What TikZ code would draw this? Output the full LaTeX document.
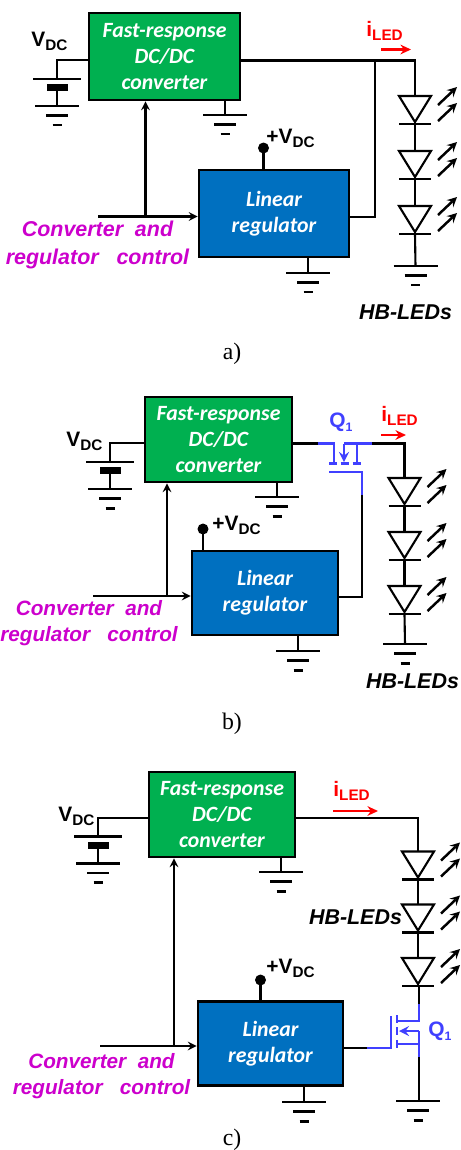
\documentclass[tikz,border=0pt]{standalone}
\usepackage{fontspec}
\setmainfont{Liberation Sans}
\newfontfamily\capfont{Liberation Serif}
\newfontfamily\boxfont{Carlito}
\usetikzlibrary{arrows.meta}
\definecolor{boxgreen}{HTML}{00B050}
\definecolor{boxblue}{HTML}{0070C0}
\definecolor{ctlpink}{HTML}{CC00CC}
\definecolor{fetblue}{HTML}{4040FF}
\newcommand{\subtxt}[2]{#1{\raisebox{-2.6pt}{\fontsize{8.7}{10}\selectfont #2}}}
\tikzset{
  wire/.style={line width=1.2pt},
  fet/.style={line width=1.5pt,fetblue},
  ray/.style={line width=1.4pt,->,>=stealth},
  redarrow/.style={line width=1.6pt,red,-{Stealth[length=6pt,width=5.5pt]}},
  block/.style={draw=black,line width=1.6pt,inner sep=0pt,align=center,text=white,
    font=\boxfont\bfseries\itshape\fontsize{12.4}{15}\selectfont},
  greenbox/.style={block,fill=boxgreen},
  bluebox/.style={block,fill=boxblue},
  tag/.style={inner sep=0pt,anchor=base west,font=\bfseries\fontsize{11.9}{14}\selectfont},
  ctltext/.style={inner sep=0pt,align=center,text=ctlpink,
    font=\bfseries\itshape\fontsize{12.2}{15.6}\selectfont},
  ctlsmall/.style={inner sep=0pt,align=center,text=ctlpink,
    font=\bfseries\itshape\fontsize{11.8}{14.8}\selectfont},
  ledtext/.style={inner sep=0pt,font=\bfseries\itshape\fontsize{12.2}{14}\selectfont},
  captext/.style={inner sep=0pt,font=\capfont\fontsize{13.5}{15}\selectfont},
  gnd/.pic={
    \draw[wire] (-22,0)--(22,0);
    \draw[wire] (-11,9.5)--(11,9.5);
    \draw[line width=1.7pt] (-4.5,19)--(4.5,19);
  },
  batt/.pic={
    \coordinate (-top) at (0,0);
    \coordinate (-bot) at (0,27);
    \draw[wire] (-24,0)--(24,0);
    \fill[black] (-10.5,5) rectangle (10.5,12);
    \draw[wire] (0,12)--(-bot);
  },
  hbled/.pic={
    \coordinate (-top) at (0,0);
    \coordinate (-bot) at (0,28);
    \draw[wire] (-16,0)--(16,0)--(0,26)--cycle;
    \draw[wire] (-16,28)--(16,28);
    \draw[ray] (23,9)--(42,-9);
    \draw[ray] (23,25)--(42,7);
  },
}
\begin{document}
\begin{tikzpicture}[x=0.02cm,y=-0.02cm]
  \useasboundingbox (0,0) rectangle (460,1150);

  % a)
  \node[greenbox,minimum width=3.02cm,minimum height=1.74cm] (convA) at (164.5,56.5) {Fast-response\\DC/DC\\converter};
  \node[bluebox,minimum width=3cm,minimum height=1.74cm] (regA) at (274,213.5) {Linear\\regulator};
  \coordinate (topA) at (415,60.5); %LED wire
  \coordinate (brA) at (375,217); %branch
  \coordinate (tapA) at (145.5,216.5);
  \coordinate (ctlA) at (98,216.5);
  \coordinate (dotA) at (263.5,148);
  \coordinate (cornA) at (57,60);
  \coordinate (gndA1) at (225,115);
  \coordinate (gndA2) at (308,273);
  \coordinate (gndA3) at (415.5,266);
  \pic (batA) at (57,79) {batt};
  \foreach \n/\y in {1/96,2/151,3/206} \pic (ledA\n) at (415,\y) {hbled};
  \foreach \P in {batA-bot,gndA1,gndA2,gndA3} \pic at (\P) {gnd};
  \fill[black] (dotA) circle (5.5);
  \draw[wire] (convA.west |- cornA) -- (cornA) -- (batA-top);
  \draw[wire] (convA.east |- topA) -- (topA) -- (ledA1-top);
  \draw[wire] (ledA1-bot) -- (ledA2-top);
  \draw[wire] (ledA2-bot) -- (ledA3-top);
  \draw[wire] (ledA3-bot) -- (gndA3);
  \draw[wire] (regA.east |- brA) -- (brA) -- (brA |- topA);
  \draw[wire,->,>=stealth] (ctlA) -- (regA.west |- ctlA);
  \draw[wire,->,>=stealth] (tapA) -- (tapA |- convA.south);
  \draw[wire] (dotA) -- (dotA |- regA.north);
  \draw[wire] (gndA1 |- convA.south) -- (gndA1);
  \draw[wire] (gndA2 |- regA.south) -- (gndA2);
  \draw[redarrow] (381,49.5) -- (411,49.5);
  \node[tag] (vdcA) at (31,46) {\subtxt{V}{DC}};
  \node[tag] (supA) at (266,143) {+\subtxt{V}{DC}};
  \node[tag,red] (iledA) at (366,36) {\subtxt{i}{LED}};
  \node[ctltext] (ctlTextA) at (97.5,245) {Converter\ \ and\\regulator\ \ \ control};
  \node[ledtext] (hbA) at (405.5,312) {HB-LEDs};
  \node[captext] (capA) at (232,354) {a)};

  % b)
  \node[greenbox,minimum width=2.94cm,minimum height=1.7cm] (convB) at (218.5,439.5) {Fast-response\\DC/DC\\converter};
  \node[bluebox,minimum width=2.92cm,minimum height=1.68cm] (regB) at (265,593) {Linear\\regulator};
  \coordinate (topB) at (404.5,443.5);
  \coordinate (fetInB) at (318,443.5);
  \coordinate (fetOutB) at (372,443.5);
  \coordinate (gateB) at (362,472);
  \coordinate (gateEndB) at (362,495);
  \coordinate (brB) at (362,597);
  \coordinate (tapB) at (167,596);
  \coordinate (ctlB) at (93,596);
  \coordinate (dotB) at (203,529);
  \coordinate (cornB) at (110,443);
  \coordinate (gndB1) at (277,497);
  \coordinate (gndB2) at (298,651);
  \coordinate (gndB3) at (405,644);
  \pic (batB) at (110,462) {batt};
  \foreach \n/\y in {1/478,2/532,3/586} \pic (ledB\n) at (404.5,\y) {hbled};
  \foreach \P in {batB-bot,gndB1,gndB2,gndB3} \pic at (\P) {gnd};
  \fill[black] (dotB) circle (5.5);
  \draw[wire] (convB.west |- cornB) -- (cornB) -- (batB-top);
  \draw[wire] (convB.east |- fetInB) -- (fetInB);
  \draw[wire] (fetOutB) -- (topB) -- (ledB1-top);
  \draw[wire] (ledB1-bot) -- (ledB2-top);
  \draw[wire] (ledB2-bot) -- (ledB3-top);
  \draw[wire] (ledB3-bot) -- (gndB3);
  \draw[wire] (regB.east |- brB) -- (brB) -- (gateEndB);
  \draw[wire,->,>=stealth] (ctlB) -- (regB.west |- ctlB);
  \draw[wire,->,>=stealth] (tapB) -- (tapB |- convB.south);
  \draw[wire] (dotB) -- (dotB |- regB.north);
  \draw[wire] (gndB1 |- convB.south) -- (gndB1);
  \draw[wire] (gndB2 |- regB.south) -- (gndB2);
  \draw[fet] (fetInB) -- (334,443.5) -- (334,463);
  \draw[fet] (fetOutB) -- (344,443.5);
  \draw[fet,->,>=stealth] (344,443.5) -- (344,462);
  \draw[fet] (357,443.5) -- (357,463);
  \foreach \x in {333,344.5,356.5} \draw[fet] (\x-4,463.5) -- (\x+4,463.5);
  \draw[fet] (329,472) -- (gateB) -- (gateEndB);
  \draw[redarrow] (381,435) -- (406,435);
  \node[tag] (vdcB) at (66,446) {\subtxt{V}{DC}};
  \node[tag] (supB) at (212,530) {+\subtxt{V}{DC}};
  \node[tag,red] (iledB) at (381,421) {\subtxt{i}{LED}};
  \node[tag,fetblue] (qB) at (329,427) {\subtxt{Q}{\fontsize{7}{8}\selectfont 1}};
  \node[ctlsmall] (ctlTextB) at (89,623) {Converter\ \ and\\regulator\ \ \ control};
  \node[ledtext] (hbB) at (412.5,681) {HB-LEDs};
  \node[captext] (capB) at (232,724) {b)};

  % c)
  \node[greenbox,minimum width=2.92cm,minimum height=1.7cm] (convC) at (222,814.5) {Fast-response\\DC/DC\\converter};
  \node[bluebox,minimum width=2.9cm,minimum height=1.67cm] (regC) at (270.5,1043.5) {Linear\\regulator};
  \coordinate (topC) at (418,818);
  \coordinate (drainC) at (419,1004);
  \coordinate (srcC) at (419,1057);
  \coordinate (gateC) at (367,1048);
  \coordinate (tapC) at (174,1046);
  \coordinate (ctlC) at (100,1046);
  \coordinate (dotC) at (260.5,980);
  \coordinate (cornC) at (98,818);
  \coordinate (gndC1) at (281,872);
  \coordinate (gndC2) at (304,1102);
  \coordinate (gndC3) at (418,1101);
  \pic (batC) at (98,836.5) {batt};
  \foreach \n/\y in {1/851.5,2/904.5,3/958} \pic (ledC\n) at (418,\y) {hbled};
  \foreach \P in {batC-bot,gndC1,gndC2,gndC3} \pic at (\P) {gnd};
  \fill[black] (dotC) circle (5.5);
  \draw[wire] (convC.west |- cornC) -- (cornC) -- (batC-top);
  \draw[wire] (convC.east |- topC) -- (topC) -- (ledC1-top);
  \draw[wire] (ledC1-bot) -- (ledC2-top);
  \draw[wire] (ledC2-bot) -- (ledC3-top);
  \draw[wire] (ledC3-bot) -- (ledC3-bot -| drainC) -- (drainC);
  \draw[wire] (srcC) -- (srcC |- gndC3);
  \draw[wire] (regC.east |- gateC) -- (gateC);
  \draw[wire,->,>=stealth] (ctlC) -- (regC.west |- ctlC);
  \draw[wire,->,>=stealth] (tapC) -- (tapC |- convC.south);
  \draw[wire] (dotC) -- (dotC |- regC.north);
  \draw[wire] (gndC1 |- convC.south) -- (gndC1);
  \draw[wire] (gndC2 |- regC.south) -- (gndC2);
  \draw[fet] (drainC) -- (419,1021) -- (397,1021);
  \draw[fet] (419,1044) -- (397,1044);
  \draw[fet] (srcC) -- (419,1031);
  \draw[fet,->,>=stealth] (419,1031) -- (399,1031);
  \foreach \y in {1019,1031,1044} \draw[fet] (397,\y-4) -- (397,\y+4);
  \draw[fet] (391,1016) -- (391,1048) -- (gateC);
  \draw[redarrow] (333,811) -- (378,811);
  \node[tag] (vdcC) at (58,821) {\subtxt{V}{DC}};
  \node[tag] (supC) at (266,973) {+\subtxt{V}{DC}};
  \node[tag,red] (iledC) at (333,796) {\subtxt{i}{LED}};
  \node[tag,fetblue] (qC) at (428,1036) {\subtxt{Q}{\fontsize{7}{8}\selectfont 1}};
  \node[ctlsmall] (ctlTextC) at (101.5,1076) {Converter\ \ and\\regulator\ \ \ control};
  \node[ledtext] (hbC) at (355.5,917) {HB-LEDs};
  \node[captext] (capC) at (232,1140) {c)};
\end{tikzpicture}
\end{document}
